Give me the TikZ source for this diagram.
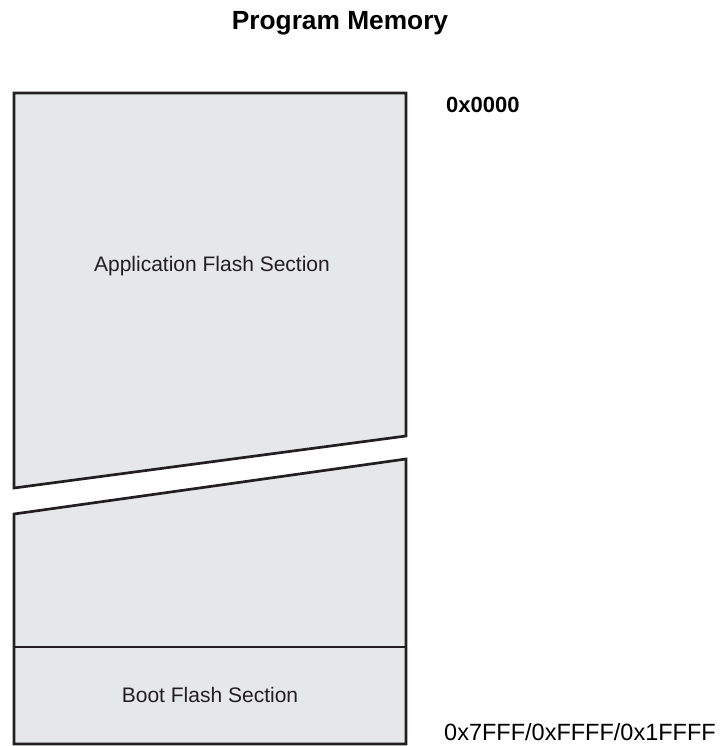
\documentclass[tikz,border=0pt]{standalone}
\usepackage{fontspec}
\setmainfont{Liberation Sans}
\definecolor{flashgray}{HTML}{E6E7E8}
\definecolor{edgegray}{HTML}{231F20}
\tikzset{
    memblock/.style={draw=edgegray, fill=flashgray, line width=2.7pt, line join=miter},
    seclabel/.style={font=\fontsize{21}{25}\selectfont, text=edgegray, anchor=base},
    addrlabel/.style={font=\fontsize{23.5}{28}\selectfont, anchor=base west, inner sep=0pt}
}
\begin{document}
\begin{tikzpicture}[x=1pt, y=-1pt]
    \useasboundingbox (0,0) rectangle (727,746);

    % upper part of the flash, cut off at the slanted gap
    \draw[memblock] (14,93) -- (406,93) -- (406,436) -- (14,488) -- cycle;
    % lower part, with the boot section at the end
    \draw[memblock] (14,514) -- (406,459) -- (406,744) -- (14,744) -- cycle;
    \draw[memblock] (14,647) -- (406,647);

    \node[font=\fontsize{26.3}{31}\selectfont\bfseries, anchor=base] (title) at (340,30) {Program Memory};
    \node[seclabel] (app) at (212,271) {Application Flash Section};
    \node[seclabel] (boot) at (210,702) {Boot Flash Section};
    \node[addrlabel, font=\fontsize{22}{26}\selectfont\bfseries] (start) at (446,113) {0x0000};
    \node[addrlabel] (end) at (444,740) {0x7FFF/0xFFFF/0x1FFFF};
\end{tikzpicture}
\end{document}
